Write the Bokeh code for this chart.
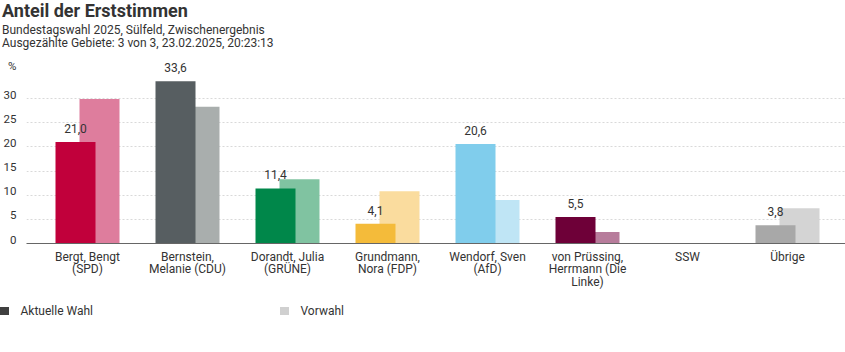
from bokeh.plotting import figure
from bokeh.layouts import column
from bokeh.models import (ColumnDataSource, FixedTicker, Range1d, LinearAxis, Grid, Div)
from bokeh.core.properties import value
from bokeh.embed import file_html
from bokeh.resources import INLINE

# ---- data ----
candidates = ["Bergt, Bengt\n(SPD)", "Bernstein,\nMelanie (CDU)", "Dorandt, Julia\n(GRÜNE)",
              "Grundmann,\nNora (FDP)", "Wendorf, Sven\n(AfD)", "von Prüssing,\nHerrmann (Die\nLinke)",
              "SSW", "Übrige"]
current = [21.0, 33.6, 11.4, 4.1, 20.6, 5.5, float("nan"), 3.8]
previous = [29.9, 28.3, 13.3, 10.8, 9.0, 2.4, float("nan"), 7.3]
current_colors = ["#C1003B", "#575E61", "#00874A", "#F4BB3A", "#80CDEC", "#6E0038", "#A8A8A8", "#A8A8A8"]
previous_colors = ["#DE7D9D", "#A9AEAD", "#80C3A1", "#FADC9E", "#BFE5F5", "#B77C9B", "#D4D4D4", "#D4D4D4"]
y_ticks = [0, 5, 10, 15, 20, 25, 30]

title = "Anteil der Erststimmen"
subtitle1 = "Bundestagswahl 2025, Sülfeld, Zwischenergebnis"
subtitle2 = "Ausgezählte Gebiete: 3 von 3, 23.02.2025, 20:23:13"
unit = "%"
legend_labels = ["Aktuelle Wahl", "Vorwahl"]
legend_colors = ["#404040", "#D0D0D0"]

FONT = "Roboto"
TXT = "#333333"


def line(txt, left, top, size, weight="normal"):
    return (f'<div style="position:absolute;left:{left}px;top:{top}px;font-size:{size}px;'
            f'line-height:{size}px;font-weight:{weight};white-space:nowrap;">{txt}</div>')


# ---- header ----
HEAD_H = 58
header_html = (f'<div style="position:relative;width:845px;height:{HEAD_H}px;font-family:{FONT};'
               f'color:{TXT};">'
               + line(title, 2, 2, 18, "bold")
               + line(subtitle1, 2, 24, 12)
               + line(subtitle2, 2, 37, 12)
               + '</div>')
header = Div(text=header_html, width=845, height=HEAD_H, margin=0)

# ---- main chart ----
idx = list(range(len(candidates)))
src_cur = ColumnDataSource(dict(x=[i - 0.12 for i in idx], top=current, color=current_colors))
src_prev = ColumnDataSource(dict(x=[i + 0.12 for i in idx], top=previous, color=previous_colors))
lab_x = [i - 0.12 for i, v in zip(idx, current) if v == v]
lab_y = [v for v in current if v == v]
lab_t = [f"{v:.1f}".replace(".", ",") for v in current if v == v]
src_lab = ColumnDataSource(dict(x=lab_x, y=lab_y, t=lab_t))

PX = 4.83          # pixels per percent point
FRAME_H = 183
Y_END = FRAME_H / PX
SHIFT = 4 / PX     # tick labels sit slightly above their grid line
UNIT_POS = round(Y_END - 4 / PX - SHIFT, 2)   # "%" just below the top of the plot area

p = figure(width=845, height=237, frame_width=821, frame_height=FRAME_H,
           output_backend="svg", toolbar_location=None, y_axis_type=None,
           x_range=Range1d(-0.61, 7.6), y_range=Range1d(0, Y_END),
           min_border_left=24, min_border_right=0, min_border_top=2, min_border_bottom=52)
p.outline_line_color = None
p.background_fill_color = "white"
p.border_fill_color = "white"

p.add_layout(Grid(dimension=1, ticker=FixedTicker(ticks=y_ticks), grid_line_color="#d9d9d9",
                  grid_line_dash="2 2", grid_line_width=1))

p.vbar(x="x", top="top", width=0.4, bottom=0, source=src_prev, fill_color="color", line_color=None)
p.vbar(x="x", top="top", width=0.4, bottom=0, source=src_cur, fill_color="color", line_color=None)
p.text(x="x", y="y", text="t", source=src_lab, text_align="center", text_baseline="bottom",
       y_offset=-9, text_font_size="12px", text_color=TXT, text_font=value(FONT))

# x axis
p.xaxis.ticker = FixedTicker(ticks=idx)
p.xaxis.major_label_overrides = {i: c for i, c in zip(idx, candidates)}
p.xaxis.major_tick_line_color = None
p.xaxis.major_tick_out = 0
p.xaxis.major_tick_in = 0
p.xaxis.minor_tick_line_color = None
p.xaxis.axis_line_color = "#666666"
p.xaxis.major_label_text_font = FONT
p.xaxis.major_label_text_font_size = "12px"
p.xaxis.major_label_text_color = TXT
p.xaxis.major_label_standoff = 6
p.xaxis.major_label_text_line_height = 0.9
p.xgrid.grid_line_color = None

# y axis (labels on a slightly shifted range so they sit above the grid lines; "%" as top label)
p.extra_y_ranges = {"lab": Range1d(-SHIFT, Y_END - SHIFT)}
yax = LinearAxis(y_range_name="lab", ticker=FixedTicker(ticks=y_ticks + [UNIT_POS]),
                 major_label_overrides={UNIT_POS: unit},
                 axis_line_color=None, major_tick_line_color=None, minor_tick_line_color=None,
                 major_tick_out=0, major_tick_in=0, major_label_standoff=10,
                 major_label_text_font=FONT, major_label_text_font_size="11.5px",
                 major_label_text_color=TXT)
p.add_layout(yax, "left")

# ---- legend strip ----
LEG_H = 57
leg_html = f'<div style="position:relative;width:845px;height:{LEG_H}px;font-family:{FONT};color:{TXT};">'
for x0, lab, col in zip([0, 280], legend_labels, legend_colors):
    leg_html += (f'<div style="position:absolute;left:{x0}px;top:12px;width:9px;height:8px;'
                 f'background:{col};"></div>')
    leg_html += line(lab, x0 + 20.5, 10, 12)
leg_html += '</div>'
legend = Div(text=leg_html, width=845, height=LEG_H, margin=0)

open("out.html", "w").write(file_html(column(header, p, legend, spacing=0), INLINE))
